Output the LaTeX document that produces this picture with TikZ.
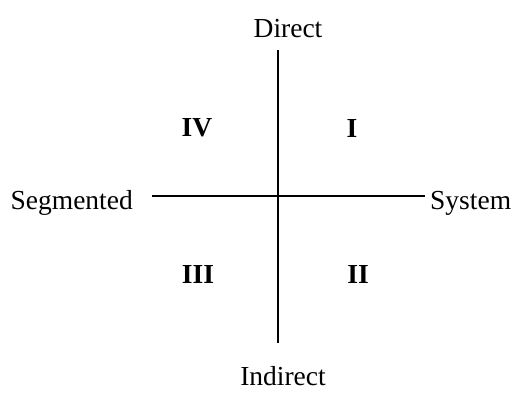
\documentclass[tikz,border=0pt]{standalone}
\usepackage{fontspec}
\setmainfont{Liberation Serif}
\usepackage{tikz}
\usetikzlibrary{positioning}

\begin{document}
\begin{tikzpicture}[x=1pt,y=1pt,
    lbl/.style={inner sep=0pt,font=\fontsize{27.5}{32}\selectfont},
    quad/.style={inner sep=0pt,font=\fontsize{27.5}{32}\selectfont\bfseries},
    axis/.style={line width=1.8pt}]
  \useasboundingbox (0,0) rectangle (527,392);
  % axis labels
  \node[lbl,anchor=base]      (direct)   at (288,355) {Direct};
  \node[lbl,anchor=base]      (indirect) at (283,7)   {Indirect};
  \node[lbl,anchor=base east] (segm)     at (133,183) {Segmented};
  \node[lbl,anchor=base west] (system)   at (430,183) {System};
  % axes
  \coordinate (top)    at (278,342);
  \coordinate (bottom) at (278,49);
  \coordinate (left)   at (152,196);
  \coordinate (right)  at (425,196);
  \draw[axis] (top) -- (bottom);
  \draw[axis] (left) -- (right);
  % quadrants
  \node[quad] (q1) at (352,264) {I};
  \node[quad] (q2) at (358,118) {II};
  \node[quad] (q3) at (198,118) {III};
  \node[quad] (q4) at (197,264) {IV};
\end{tikzpicture}
\end{document}
